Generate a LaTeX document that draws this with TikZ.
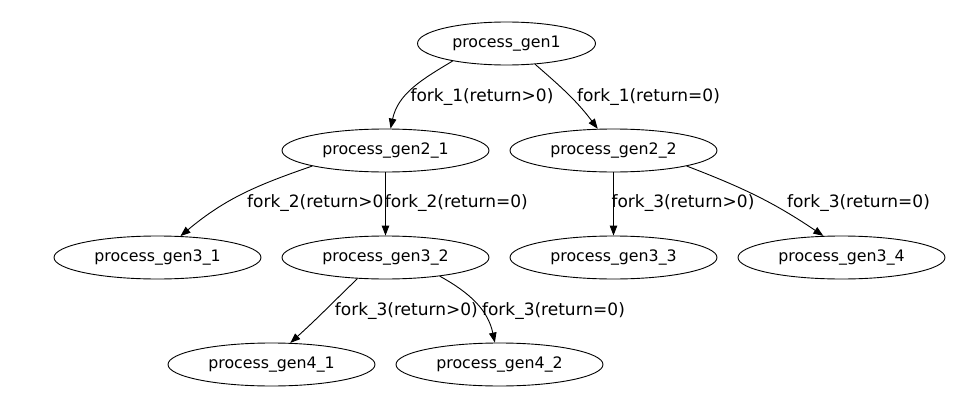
\documentclass[tikz,border=0pt]{standalone}
\usepackage{fontspec}
\setmainfont{DejaVu Sans}
\usetikzlibrary{arrows.meta,shapes.geometric}
\begin{document}
\begin{tikzpicture}[x=1bp,y=1bp,
  proc/.style={draw=black,ellipse,line width=0.9bp,inner sep=0pt,minimum width=207bp,minimum height=43bp,font=\fontsize{15.8bp}{19bp}\selectfont},
  lbl/.style={inner sep=0pt,font=\fontsize{17bp}{20bp}\selectfont},
  edge/.style={draw=black,line width=0.9bp,-{Triangle[length=10bp,width=7.5bp]}}]
\useasboundingbox[fill=white] (0,0) rectangle (966,406);
% nodes
\node[proc,minimum width=178bp] (g1) at (506.5,362.5) {process\_gen1};
\node[proc] (g21) at (385.5,255.5) {process\_gen2\_1};
\node[proc] (g22) at (613.5,255.5) {process\_gen2\_2};
\node[proc] (g31) at (157.5,148.5) {process\_gen3\_1};
\node[proc] (g32) at (385.5,148.5) {process\_gen3\_2};
\node[proc] (g33) at (613.5,148.5) {process\_gen3\_3};
\node[proc] (g34) at (841.5,148.5) {process\_gen3\_4};
\node[proc] (g41) at (271.5,41.5) {process\_gen4\_1};
\node[proc] (g42) at (499.5,41.5) {process\_gen4\_2};
% edges
\draw[edge] (g1.198) to[out=211,in=78] (g21.77);
\draw[edge] (g1.-36) to[out=-41,in=127] (g22.126);
\draw[edge] (g21.192) to[out=199,in=40] (g31.43);
\draw[edge] (g21.south) -- (g32.north);
\draw[edge] (g22.south) -- (g33.north);
\draw[edge] (g22.-12) to[out=-21,in=146] (g34.130);
\draw[edge] (g32.217) to[out=224,in=42] (g41.49);
\draw[edge] (g32.-19) to[out=-29,in=102] (g42.102);
% labels
\node[lbl] (l1) at (482,308.7) {fork\_1(return>0)};
\node[lbl] (l2) at (648.5,308.7) {fork\_1(return=0)};
\node[lbl,anchor=west] (l3) at (247,202.7) {fork\_2(return>0};
\node[lbl] (l4) at (456.3,202.7) {fork\_2(return=0)};
\node[lbl] (l5) at (683,202.7) {fork\_3(return>0)};
\node[lbl] (l6) at (858.5,202.7) {fork\_3(return=0)};
\node[lbl] (l7) at (406.3,95.3) {fork\_3(return>0)};
\node[lbl] (l8) at (553.5,95.3) {fork\_3(return=0)};
\end{tikzpicture}
\end{document}
